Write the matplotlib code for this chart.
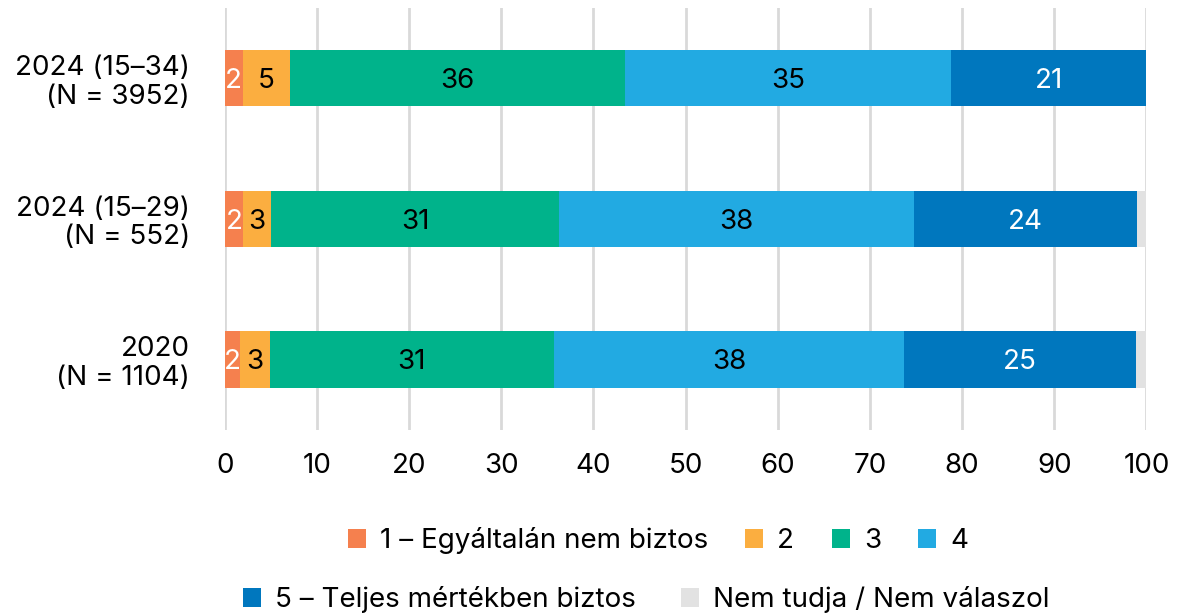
import matplotlib
matplotlib.use("Agg")
import matplotlib.pyplot as plt
from matplotlib.patches import Patch

categories = ["2024 (15–34)\n(N = 3952)", "2024 (15–29)\n(N = 552)", "2020\n(N = 1104)"]
series_names = ["1 – Egyáltalán nem biztos", "2", "3", "4",
                "5 – Teljes mértékben biztos", "Nem tudja / Nem válaszol"]
v1 = [1.95, 2.0, 1.7]
v2 = [5.1, 3.0, 3.2]
v3 = [36.4, 31.3, 30.8]
v4 = [35.3, 38.5, 38.0]
v5 = [21.3, 24.2, 25.2]
v6 = [0.0, 1.0, 1.1]
labels1 = ["2", "2", "2"]
labels2 = ["5", "3", "3"]
labels3 = ["36", "31", "31"]
labels4 = ["35", "38", "38"]
labels5 = ["21", "24", "25"]
xticks = [0, 10, 20, 30, 40, 50, 60, 70, 80, 90, 100]

colors = ["#F5804E", "#FBAE40", "#00B38B", "#22AAE2", "#0077BE", "#E2E2E2"]
txtcolors = ["white", "black", "black", "black", "white", None]

plt.rcParams['font.family'] = ['Inter', 'DejaVu Sans']
FS = 20

fig = plt.figure(figsize=(11.77, 6.13), dpi=100)
ax = fig.add_axes([0.191, 0.299, 0.783, 0.688])

series = [v1, v2, v3, v4, v5, v6]
lbls = [labels1, labels2, labels3, labels4, labels5, None]
ypos = list(range(len(categories)))
left = [0.0] * len(categories)
for s, vals in enumerate(series):
    ax.barh(ypos, vals, left=left, height=0.40, color=colors[s], zorder=3)
    if lbls[s] is not None:
        for i, v in enumerate(vals):
            ax.text(left[i] + v / 2, ypos[i] + 0.02, lbls[s][i], ha="center", va="center",
                    fontsize=FS, color=txtcolors[s], zorder=4)
    left = [l + v for l, v in zip(left, vals)]

ax.set_xlim(0, 100)
ax.set_ylim(2.5, -0.5)
ax.set_xticks(xticks)
ax.set_xticklabels([str(t) for t in xticks], fontsize=FS)
ax.set_yticks(ypos)
ax.set_yticklabels(categories, fontsize=FS, ha="right", linespacing=1.12)
ax.tick_params(axis="both", length=0)
ax.tick_params(axis="x", pad=17)
ax.tick_params(axis="y", pad=25)
for sp in ax.spines.values():
    sp.set_visible(False)
ax.grid(axis="x", color="#D9D9D9", linewidth=2, zorder=0)
ax.set_axisbelow(True)

h = [Patch(facecolor=c) for c in colors]
leg1 = fig.legend(h[:4], series_names[:4], loc="center", bbox_to_anchor=(0.559, 0.118),
                  ncol=4, frameon=False, fontsize=FS, handlelength=0.65, handleheight=0.65,
                  handletextpad=0.5, columnspacing=1.35)
leg2 = fig.legend(h[4:], series_names[4:], loc="center", bbox_to_anchor=(0.549, 0.022),
                  ncol=2, frameon=False, fontsize=FS, handlelength=0.65, handleheight=0.65,
                  handletextpad=0.5, columnspacing=1.6)

fig.savefig("out.png", dpi=100)
